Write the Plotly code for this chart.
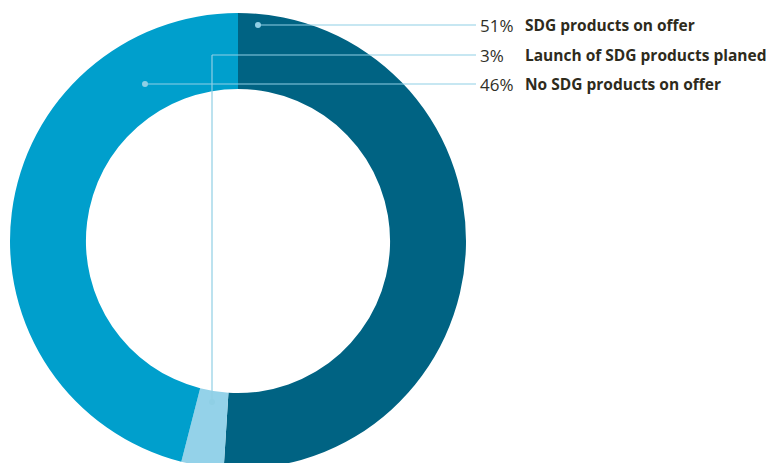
import plotly.graph_objects as go

labels = ["SDG products on offer", "Launch of SDG products planed", "No SDG products on offer"]
values = [51, 3, 46]
pct_text = ["51%", "3%", "46%"]
colors = ["#006383", "#94d2e9", "#009fcc"]

OFF = 8  # page body margin
W, H = 779, 462
cx, cy, R = 238 - OFF, 241 - OFF, 228

fig = go.Figure()
fig.add_trace(go.Pie(
    labels=labels, values=values, sort=False, direction="clockwise", rotation=0,
    hole=0.667, textinfo="none", hoverinfo="label+percent", showlegend=False,
    marker=dict(colors=colors, line=dict(width=0)),
    domain=dict(x=[(cx - R) / W, (cx + R) / W], y=[(H - (cy + R)) / H, (H - (cy - R)) / H]),
))

lead = "#8fcfe5"
# leader paths (pixel coords in the reference): dot first
paths = [
    [(258, 25), (476, 25)],
    [(212, 402), (212, 55), (476, 55)],
    [(145, 84), (476, 84)],
]
for p in paths:
    pts = [(a - OFF, b - OFF) for a, b in p]
    for (x0, y0), (x1, y1) in zip(pts[:-1], pts[1:]):
        fig.add_shape(type="line", x0=x0, y0=y0, x1=x1, y1=y1, xref="x", yref="y",
                      layer="above", line=dict(color=lead, width=1.2))
    dx, dy = pts[0]
    fig.add_shape(type="circle", x0=dx - 3, x1=dx + 3, y0=dy - 3, y1=dy + 3, xref="x", yref="y",
                  layer="above", fillcolor=lead, line=dict(width=0))

for i, p in enumerate(paths):
    y = p[-1][1] - OFF
    fig.add_annotation(x=478 - OFF, y=y, text=pct_text[i], showarrow=False, xanchor="left", yanchor="middle",
                       font=dict(family="Open Sans", size=17, color="#2f2f28", weight=400))
    fig.add_annotation(x=523 - OFF, y=y, text="<b>" + labels[i] + "</b>", showarrow=False, xanchor="left",
                       yanchor="middle", font=dict(family="Open Sans", size=15.5, color="#2e2b1c"))

fig.update_layout(
    width=W, height=H, margin=dict(l=0, r=0, t=0, b=0),
    paper_bgcolor="white", plot_bgcolor="rgba(0,0,0,0)",
    xaxis=dict(range=[0, W], visible=False, fixedrange=True),
    yaxis=dict(range=[H, 0], visible=False, fixedrange=True),
)
fig.write_html("out.html")
